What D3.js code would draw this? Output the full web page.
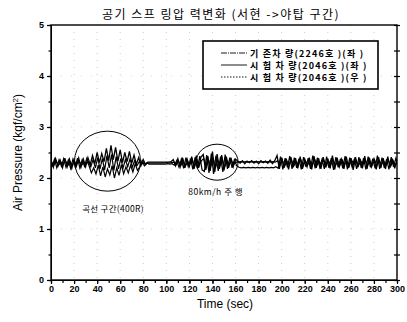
<!DOCTYPE html>
<html>
<head>
<meta charset="utf-8">
<script src="https://cdn.jsdelivr.net/npm/d3@7"></script>
<style>
  body { margin: 0; background: #fff; }
  text { fill: #000; }
</style>
</head>
<body>
<div id="chart"></div>
<script>
// 2 s sampling
const seriesNames = ["기 존차 량(2246호 )(좌 )", "시 험 차 량(2046호 )(좌 )", "시 험 차 량(2046호 )(우 )"];
const xTicks = [0, 20, 40, 60, 80, 100, 120, 140, 160, 180, 200, 220, 240, 260, 280, 300];
const yTicks = [0, 1, 2, 3, 4, 5];
// start time of each record (s); the three loggers are a little offset
const startTimes = [0, 1, 0.5];

const car2246L = [
  2.36,2.21,2.38,2.23,2.35,2.20,2.39,2.22,2.37,2.19,2.36,2.23,2.39,2.21,2.37,2.22,
  2.40,2.26,2.44,2.28,2.50,2.30,2.48,2.32,2.58,2.34,2.64,2.36,2.60,2.33,2.55,2.30,2.50,2.32,2.52,2.29,2.45,2.27,
  2.40,2.24,2.36,2.26,
  2.31,2.31,2.31,2.31,2.31,2.31,2.31,2.31,2.31,2.31,2.32,
  2.36,2.24,2.38,2.22,2.40,2.20,2.37,2.23,2.42,2.18,2.44,2.20,2.41,
  2.46,2.16,2.43,2.14,2.52,2.12,2.47,2.18,2.45,2.15,2.42,2.20,2.40,2.22,2.37,
  2.33,2.29,2.34,2.28,2.33,2.30,2.34,2.29,2.33,2.28,2.34,2.30,2.33,2.29,2.35,2.28,2.34,
  2.44,2.18,2.40,2.20,2.38,2.17,2.41,2.21,2.39,2.19,2.42,2.18,2.37,2.22,2.40,2.17,2.43,2.20,2.39,2.18,
  2.41,2.21,2.38,2.19,2.44,2.17,2.40,2.22,2.37,2.18,2.42,2.20,2.39,2.16,2.41,2.21,2.38,2.19,2.43,2.18,
  2.40,2.22,2.37,2.17,2.41,2.20,2.39,2.18,2.42,2.21,2.38,2.19,2.36
];
const car2046L = [
  2.22,2.37,2.20,2.36,2.23,2.38,2.21,2.35,2.19,2.37,2.22,2.39,2.20,2.36,2.23,2.38,
  2.24,2.10,2.20,2.08,2.25,2.04,2.22,2.02,2.18,2.06,2.24,2.00,2.20,2.05,2.26,2.08,2.22,2.10,2.25,2.12,2.28,2.15,
  2.22,2.34,2.24,2.30,
  2.27,2.27,2.27,2.27,2.27,2.27,2.27,2.27,2.28,2.27,2.28,
  2.25,2.34,2.21,2.37,2.19,2.40,2.22,2.38,2.17,2.41,2.19,2.43,2.16,
  2.13,2.45,2.10,2.48,2.08,2.44,2.14,2.42,2.12,2.46,2.18,2.40,2.20,2.36,2.24,
  2.21,2.20,2.21,2.20,2.21,2.20,2.21,2.20,2.21,2.20,2.21,2.20,2.21,2.20,2.21,2.20,2.22,
  2.19,2.42,2.17,2.39,2.21,2.43,2.18,2.40,2.20,2.38,2.17,2.41,2.22,2.39,2.18,2.44,2.19,2.40,2.21,2.37,
  2.18,2.42,2.20,2.39,2.16,2.41,2.21,2.38,2.19,2.43,2.17,2.40,2.22,2.37,2.18,2.41,2.20,2.39,2.17,2.42,
  2.21,2.38,2.19,2.44,2.18,2.40,2.20,2.37,2.17,2.41,2.22,2.39,2.24
];
const car2046R = [
  2.30,2.26,2.33,2.25,2.31,2.27,2.34,2.24,2.32,2.26,2.30,2.28,2.33,2.25,2.31,2.27,
  2.32,2.22,2.36,2.20,2.40,2.18,2.38,2.16,2.44,2.20,2.46,2.15,2.42,2.18,2.38,2.20,2.36,2.22,2.37,2.21,2.34,2.24,
  2.32,2.27,2.30,2.28,
  2.29,2.29,2.29,2.29,2.29,2.29,2.29,2.29,2.30,2.29,2.30,
  2.31,2.26,2.33,2.24,2.35,2.23,2.32,2.27,2.36,2.22,2.35,2.25,2.34,
  2.38,2.20,2.36,2.22,2.40,2.19,2.35,2.24,2.37,2.21,2.34,2.26,2.33,2.27,2.31,
  2.31,2.32,2.31,2.32,2.31,2.32,2.31,2.32,2.31,2.32,2.31,2.32,2.31,2.32,2.31,2.32,2.31,
  2.34,2.25,2.36,2.23,2.33,2.26,2.35,2.24,2.32,2.27,2.36,2.23,2.34,2.26,2.33,2.24,2.37,2.25,2.32,2.27,
  2.35,2.23,2.34,2.26,2.36,2.24,2.33,2.25,2.35,2.27,2.32,2.23,2.36,2.26,2.34,2.24,2.33,2.27,2.35,2.25,
  2.32,2.26,2.36,2.24,2.34,2.27,2.33,2.25,2.35,2.23,2.34,2.26,2.30
];

const margin = {top: 25, right: 10, bottom: 42, left: 51};
const W = 407, H = 322;
const width = W - margin.left - margin.right;
const height = H - margin.top - margin.bottom;

const svg = d3.select("#chart").append("svg")
  .attr("width", W).attr("height", H);
const g = svg.append("g")
  .attr("transform", "translate(" + margin.left + "," + margin.top + ")");

svg.append("defs").append("clipPath").attr("id", "clip")
  .append("rect").attr("width", width).attr("height", height);

const x = d3.scaleLinear().domain([0, 300]).range([0, width]);
const y = d3.scaleLinear().domain([0, 5]).range([height, 0]);

// faint dotted grid, like the scan
g.append("g").selectAll("line").data(xTicks.slice(1, -1)).join("line")
  .attr("x1", d => x(d)).attr("x2", d => x(d))
  .attr("y1", 0).attr("y2", height)
  .attr("stroke", "#aaa").attr("stroke-width", 0.6).attr("stroke-dasharray", "1,6");
g.append("g").selectAll("line").data(yTicks.slice(1, -1)).join("line")
  .attr("x1", 0).attr("x2", width)
  .attr("y1", d => y(d)).attr("y2", d => y(d))
  .attr("stroke", "#bbb").attr("stroke-width", 0.6).attr("stroke-dasharray", "1,9");

// series
const series = [
  {v: car2046R, t0: startTimes[2], w: 1.2},
  {v: car2046L, t0: startTimes[1], w: 1.2},
  {v: car2246L, t0: startTimes[0], w: 1.3}
];
const plot = g.append("g").attr("clip-path", "url(#clip)");
series.forEach(s => {
  const line = d3.line().x((d, i) => x(s.t0 + i * 2)).y(d => y(d));
  plot.append("path").datum(s.v)
    .attr("fill", "none").attr("stroke", "#000")
    .attr("stroke-width", s.w)
    .attr("d", line);
});

// axes
const minorX = d3.range(0, 301, 10);
const minorY = d3.range(0, 5.01, 0.5);
const tickFont = "bold 9px 'Liberation Sans', Arial, sans-serif";

g.append("g").attr("transform", "translate(0," + height + ")")
  .call(d3.axisBottom(x).tickValues(minorX).tickSize(3).tickFormat(""))
  .call(a => a.select(".domain").remove());
const xa = g.append("g").attr("transform", "translate(0," + height + ")")
  .call(d3.axisBottom(x).tickValues(xTicks).tickSize(4).tickPadding(2));
xa.selectAll("text").style("font", tickFont);

g.append("g")
  .call(d3.axisLeft(y).tickValues(minorY).tickSize(2.5).tickFormat(""))
  .call(a => a.select(".domain").remove());
const ya = g.append("g")
  .call(d3.axisLeft(y).tickValues(yTicks).tickSize(4).tickPadding(3).tickFormat(d3.format("d")));
ya.selectAll("text").style("font", tickFont);

g.append("g").attr("transform", "translate(" + width + ",0)")
  .call(d3.axisRight(y).tickValues(minorY).tickSize(3).tickFormat(""))
  .call(a => a.select(".domain").remove());
g.append("g").attr("transform", "translate(" + width + ",0)")
  .call(d3.axisLeft(y).tickValues(minorY).tickSize(3).tickFormat(""))
  .call(a => a.select(".domain").remove());

g.selectAll(".tick line").attr("stroke-width", 1.2);

g.append("rect").attr("width", width).attr("height", height)
  .attr("fill", "none").attr("stroke", "#000").attr("stroke-width", 1.4);

// annotations
g.append("ellipse").attr("cx", x(49)).attr("cy", y(2.33))
  .attr("rx", 33).attr("ry", 30)
  .attr("fill", "none").attr("stroke", "#000").attr("stroke-width", 1);
g.append("ellipse").attr("cx", x(144)).attr("cy", y(2.31))
  .attr("rx", 21).attr("ry", 18)
  .attr("fill", "none").attr("stroke", "#000").attr("stroke-width", 1);

g.append("text").attr("x", x(27)).attr("y", y(1.33))
  .style("font", "8.5px 'Noto Sans CJK KR', sans-serif")
  .style("letter-spacing", "0.3px")
  .text("곡선 구간(400R)");
g.append("text").attr("x", x(119)).attr("y", y(1.66))
  .style("font", "8.5px 'Noto Sans CJK KR', sans-serif")
  .style("letter-spacing", "0.5px")
  .text("80km/h 주 행");

// legend
const lg = g.append("g").attr("transform", "translate(152,16)");
lg.append("rect").attr("width", 175).attr("height", 48)
  .attr("fill", "#fff").attr("stroke", "#000").attr("stroke-width", 1.6);
const legendDash = ["6,1,1,1", null, "1.5,1.5"];
seriesNames.forEach((name, i) => {
  const yy = 12 + i * 12;
  lg.append("line").attr("x1", 18).attr("x2", 44).attr("y1", yy).attr("y2", yy)
    .attr("stroke", "#000").attr("stroke-width", 0.9)
    .attr("stroke-dasharray", legendDash[i]);
  lg.append("text").attr("x", 47).attr("y", yy + 3.5)
    .style("font", "bold 9px 'Noto Sans CJK KR', sans-serif")
    .style("letter-spacing", "1.2px")
    .text(name);
});

// titles
svg.append("text").attr("x", 221).attr("y", 19).attr("text-anchor", "middle")
  .style("font", "12px 'Noto Sans CJK KR', sans-serif")
  .style("letter-spacing", "1.5px")
  .text("공기 스프 링압 력변화 (서현 ->야탑 구간)");
svg.append("text").attr("x", 225).attr("y", 308).attr("text-anchor", "middle")
  .style("font", "12px 'Liberation Sans', Arial, sans-serif")
  .text("Time (sec)");
svg.append("text")
  .attr("transform", "translate(22," + (margin.top + height / 2) + ") rotate(-90)")
  .attr("text-anchor", "middle")
  .style("font", "12px 'Liberation Sans', Arial, sans-serif")
  .html("Air Pressure (kgf/cm<tspan dy='-4' font-size='8'>2</tspan><tspan dy='4'>)</tspan>");
</script>
</body>
</html>
